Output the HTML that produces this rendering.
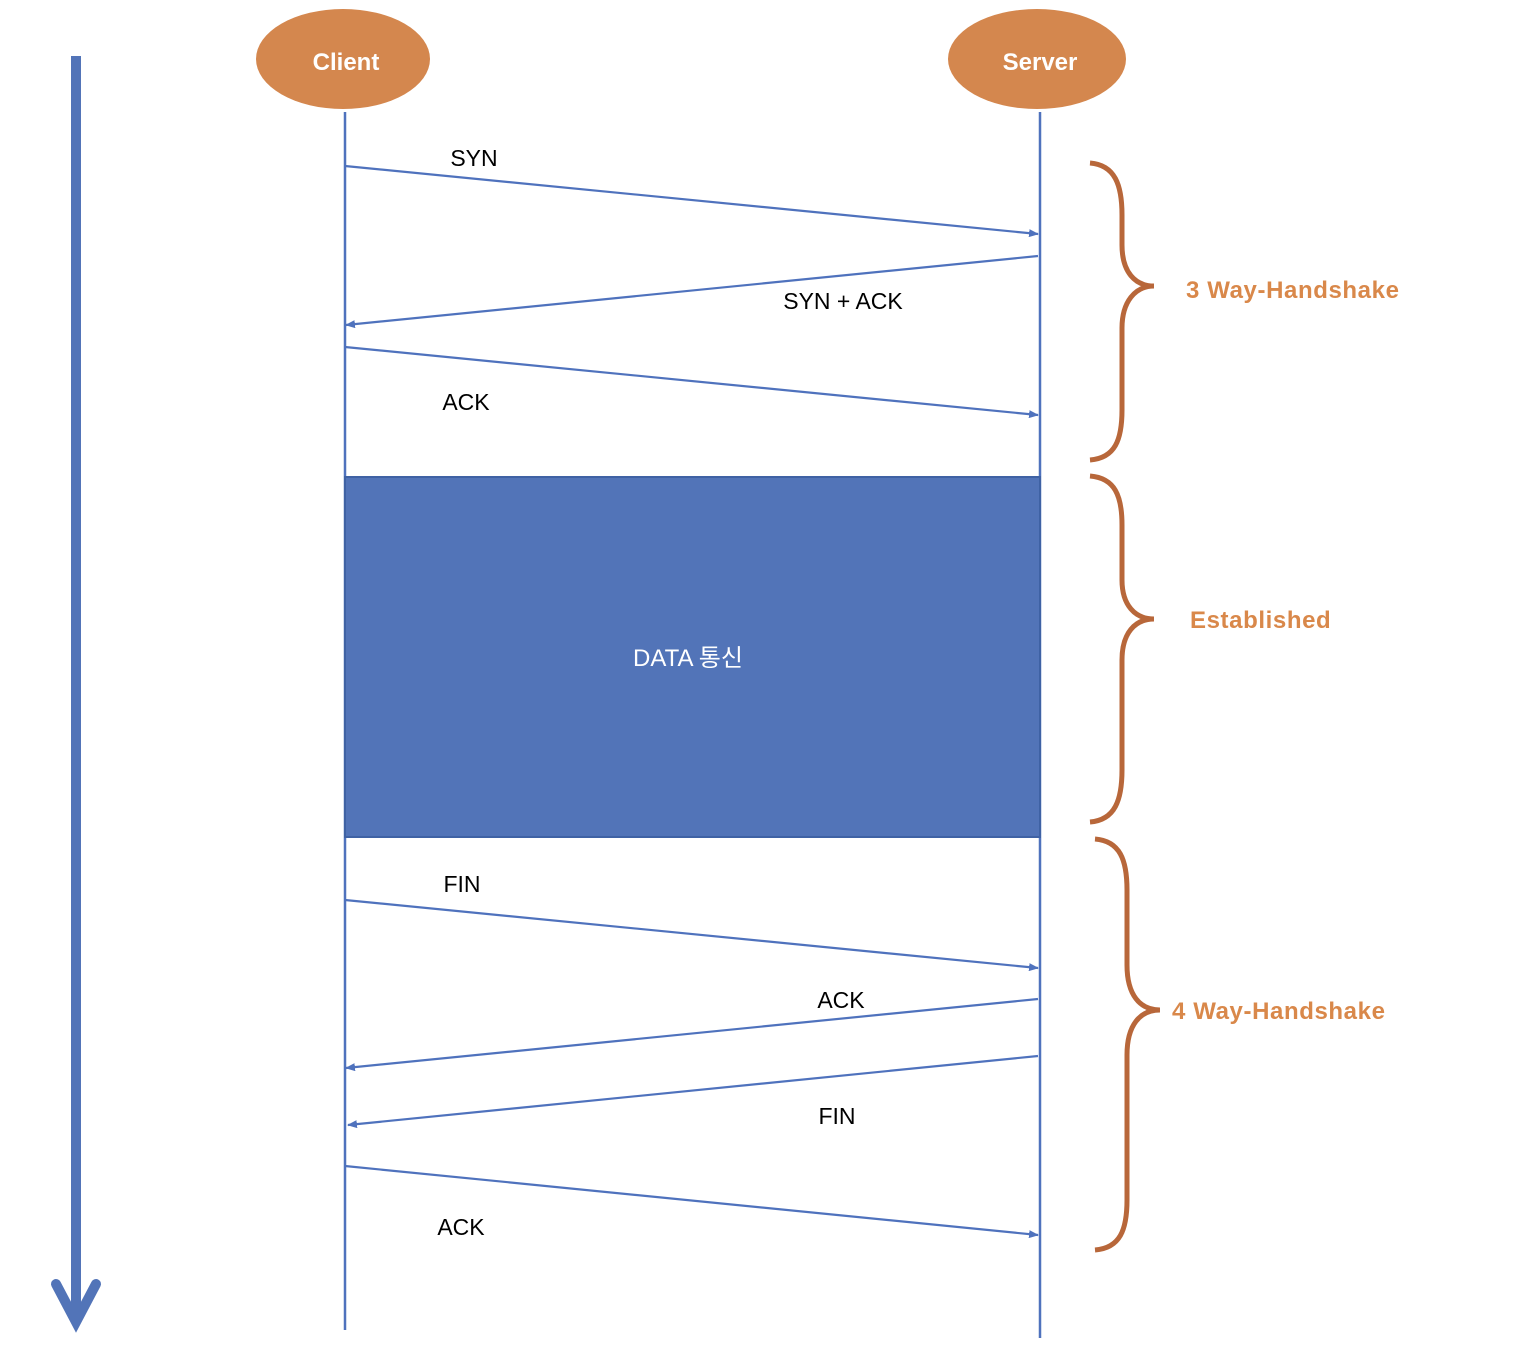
<!DOCTYPE html>
<html><head><meta charset="utf-8"><style>html,body{margin:0;padding:0;background:#fff}svg{display:block}</style></head>
<body>
<svg width="1514" height="1364" viewBox="0 0 1514 1364" xmlns="http://www.w3.org/2000/svg" font-family="'Liberation Sans','Noto Sans CJK KR',sans-serif">
<defs>
<marker id="a" markerWidth="10" markerHeight="8" refX="9" refY="4" orient="auto" markerUnits="userSpaceOnUse">
<path d="M0,0 L10,4 L0,8 Z" fill="#4f72bd"/></marker>
</defs>
<line x1="76" y1="56" x2="76" y2="1318" stroke="#5274B8" stroke-width="10"/>
<polyline points="56,1284 76,1322 96,1284" fill="none" stroke="#5274B8" stroke-width="10" stroke-linecap="round" stroke-linejoin="miter"/>
<line x1="345" y1="112" x2="345" y2="1330" stroke="#4f72bd" stroke-width="2.5"/>
<line x1="1040" y1="112" x2="1040" y2="1338" stroke="#4f72bd" stroke-width="2.5"/>
<ellipse cx="343" cy="59" rx="87" ry="50" fill="#D4874E"/>
<ellipse cx="1037" cy="59" rx="89" ry="50" fill="#D4874E"/>
<text x="346" y="70" fill="#fff" font-size="24" font-weight="bold" text-anchor="middle">Client</text>
<text x="1040" y="70" fill="#fff" font-size="24" font-weight="bold" text-anchor="middle">Server</text>
<rect x="345" y="477" width="695" height="360" fill="#5274B8" stroke="#3f62a4" stroke-width="2"/>
<text x="688" y="666" fill="#fff" font-size="24" text-anchor="middle">DATA 통신</text>
<g stroke="#4f72bd" stroke-width="2.2" marker-end="url(#a)">
<line x1="345" y1="166" x2="1038" y2="234"/>
<line x1="1038" y1="256" x2="346" y2="325"/>
<line x1="345" y1="347" x2="1038" y2="415"/>
<line x1="345" y1="900" x2="1038" y2="968"/>
<line x1="1038" y1="999" x2="346" y2="1068"/>
<line x1="1038" y1="1056" x2="348" y2="1125"/>
<line x1="345" y1="1166" x2="1038" y2="1235"/>
</g>
<g font-size="23" fill="#000" text-anchor="middle">
<text x="474" y="166">SYN</text>
<text x="843" y="309">SYN + ACK</text>
<text x="466" y="410">ACK</text>
<text x="462" y="892">FIN</text>
<text x="841" y="1008">ACK</text>
<text x="837" y="1124">FIN</text>
<text x="461" y="1235">ACK</text>
</g>
<g fill="none" stroke="#B8673A" stroke-width="5">
<path d="M1090,163 C1115,165 1122,185 1122,215 L1122,245 C1122,272 1135,286 1154,286 C1135,286 1122,302 1122,328 L1122,410 C1122,440 1115,458 1090,460"/>
<path d="M1090,476 C1115,478 1122,496 1122,525 L1122,580 C1122,605 1135,619 1154,619 C1135,619 1122,633 1122,660 L1122,770 C1122,800 1115,820 1090,822"/>
<path d="M1095,839 C1120,841 1127,860 1127,890 L1127,965 C1127,995 1140,1010 1160,1010 C1140,1010 1127,1025 1127,1055 L1127,1200 C1127,1230 1120,1248 1095,1250"/>
</g>
<g font-size="24" font-weight="bold" fill="#D9884A" letter-spacing="0.6">
<text x="1186" y="298">3 Way-Handshake</text>
<text x="1190" y="628">Established</text>
<text x="1172" y="1019">4 Way-Handshake</text>
</g>
</svg>
</body></html>
